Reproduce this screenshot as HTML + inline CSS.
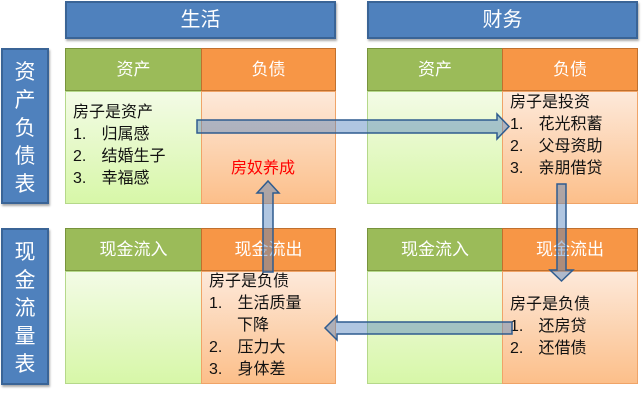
<!DOCTYPE html>
<html><head><meta charset="utf-8"><style>
body{margin:0;width:643px;height:401px;background:#fff;position:relative;overflow:hidden;font-family:"Liberation Sans","Noto Sans CJK SC",sans-serif}
.b{position:absolute;box-sizing:border-box}
.hd{background:#4f81bd;border:2px solid #3a6496;color:#fff;font-size:20px;text-align:center;box-shadow:1px 2px 2px #aaa}
.g{background:#9bbb59;border:1px solid #77933c;color:#fff;font-size:17px;text-align:center;line-height:42px}
.o{background:#f79646;border:1px solid #c0702e;color:#fff;font-size:17px;text-align:center;line-height:42px}
.gb{background:linear-gradient(#f3fbe6,#d7f7a8);border:1px solid #b5d88a}
.ob{background:linear-gradient(#fde9da,#fcbf8a);border:1px solid #f0a468}
.t{position:absolute;font-size:16px;line-height:22px;color:#111;white-space:nowrap}
.t span{display:inline-block;width:24px}
.side{font-size:21px;line-height:28px;padding-top:9px}
</style></head><body>
<div class="b hd" style="left:65px;top:1px;width:271px;height:38px;line-height:34px">生活</div>
<div class="b hd" style="left:367px;top:1px;width:271px;height:38px;line-height:34px">财务</div>
<div class="b hd side" style="left:1px;top:48px;width:48px;height:156px">资<br>产<br>负<br>债<br>表</div>
<div class="b hd side" style="left:1px;top:228px;width:48px;height:157px">现<br>金<br>流<br>量<br>表</div>

<div class="b g" style="left:65px;top:48px;width:137px;height:43px">资产</div>
<div class="b o" style="left:201px;top:48px;width:135px;height:43px">负债</div>
<div class="b gb" style="left:65px;top:91px;width:137px;height:113px"></div>
<div class="b ob" style="left:201px;top:91px;width:135px;height:113px"></div>

<div class="b g" style="left:367px;top:48px;width:136px;height:43px">资产</div>
<div class="b o" style="left:502px;top:48px;width:136px;height:43px">负债</div>
<div class="b gb" style="left:367px;top:91px;width:136px;height:113px"></div>
<div class="b ob" style="left:502px;top:91px;width:136px;height:113px"></div>

<div class="b g" style="left:65px;top:228px;width:137px;height:43px">现金流入</div>
<div class="b o" style="left:201px;top:228px;width:135px;height:43px">现金流出</div>
<div class="b gb" style="left:65px;top:271px;width:137px;height:113px"></div>
<div class="b ob" style="left:201px;top:271px;width:135px;height:113px"></div>

<div class="b g" style="left:367px;top:228px;width:136px;height:43px">现金流入</div>
<div class="b o" style="left:502px;top:228px;width:136px;height:43px">现金流出</div>
<div class="b gb" style="left:367px;top:271px;width:136px;height:113px"></div>
<div class="b ob" style="left:502px;top:271px;width:136px;height:113px"></div>

<div class="t" style="left:73px;top:102px">房子是资产<br><span>1.</span> 归属感<br><span>2.</span> 结婚生子<br><span>3.</span> 幸福感</div>
<div class="t" style="left:231px;top:158px;color:#f00">房奴养成</div>
<div class="t" style="left:510px;top:92px">房子是投资<br><span>1.</span> 花光积蓄<br><span>2.</span> 父母资助<br><span>3.</span> 亲朋借贷</div>
<div class="t" style="left:209px;top:271px">房子是负债<br><span>1.</span> 生活质量<br><span style="width:28px"></span>下降<br><span>2.</span> 压力大<br><span>3.</span> 身体差</div>
<div class="t" style="left:510px;top:294px">房子是负债<br><span>1.</span> 还房贷<br><span>2.</span> 还借债</div>

<svg class="b" style="left:0;top:0" width="643" height="401">
<g fill="rgba(79,129,189,0.45)" stroke="#2f5c8f" stroke-width="1.5">
<polygon points="197,120 497,120 497,114 509,126.5 497,139 497,133 197,133"/>
<polygon points="557,184 566,184 566,270 573,270 561.5,281 550,270 557,270"/>
<polygon points="512,322 337,322 337,316 325,328 337,340 337,334 512,334"/>
<polygon points="263,272 273,272 273,193 279,193 268,181 257,193 263,193"/>
</g></svg>
</body></html>
